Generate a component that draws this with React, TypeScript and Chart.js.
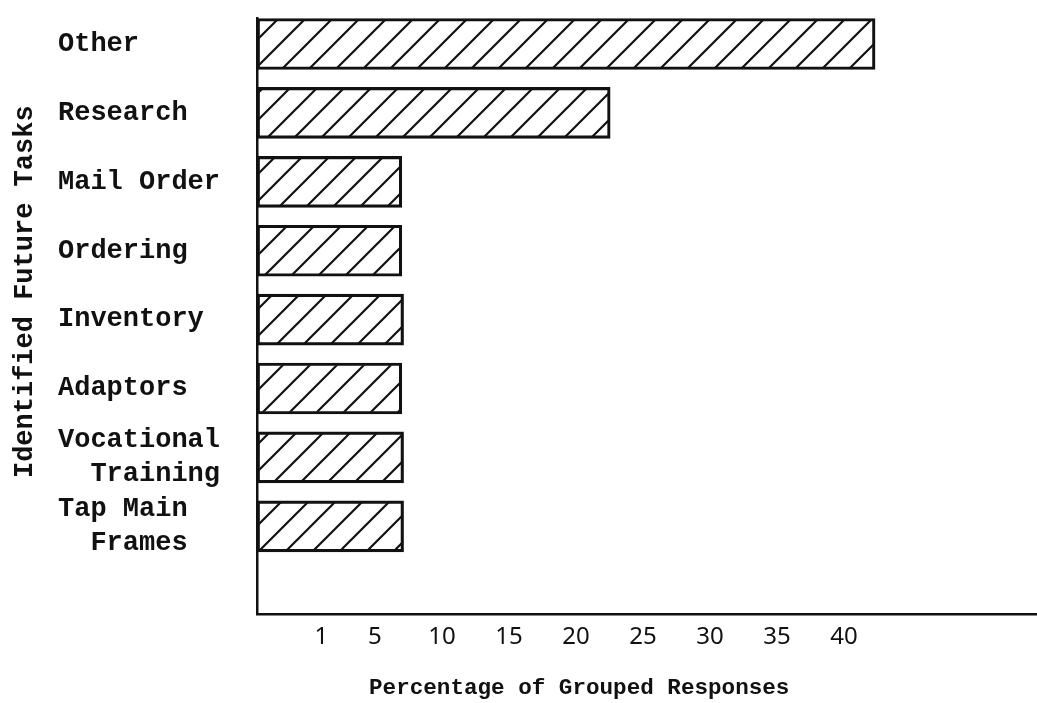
import React, { useEffect, useRef } from 'react';
import { Chart, registerables } from 'chart.js';

Chart.register(...registerables);

// ---- data ----
const categoryLines: string[][] = [
  ['Other'],
  ['Research'],
  ['Mail Order'],
  ['Ordering'],
  ['Inventory'],
  ['Adaptors'],
  ['Vocational', '  Training'],
  ['Tap Main', '  Frames'],
];
const percentages: number[] = [35, 20, 8.2, 8.2, 8.3, 8.2, 8.3, 8.3];
const tickLabels: number[] = [1, 5, 10, 15, 20, 25, 30, 35, 40];
const yTitle = 'Identified Future Tasks';
const xTitle = 'Percentage of Grouped Responses';

const MONO = "'Liberation Mono', 'DejaVu Sans Mono', monospace";

function padLines(lines: string[], n: number): string[] {
  return lines.map((l) => l + ' '.repeat(Math.max(0, n - l.length)));
}

function makeHatch(): CanvasPattern | string {
  const s = 27;
  const c = document.createElement('canvas');
  c.width = s;
  c.height = s;
  const g = c.getContext('2d');
  if (!g) return '#fff';
  g.strokeStyle = '#111';
  g.lineWidth = 2.2;
  g.beginPath();
  g.moveTo(0, s);
  g.lineTo(s, 0);
  g.moveTo(-s / 2, s / 2);
  g.lineTo(s / 2, -s / 2);
  g.moveTo(s / 2, s * 1.5);
  g.lineTo(s * 1.5, s / 2);
  g.stroke();
  return g.createPattern(c, 'repeat') || '#fff';
}

export default function App() {
  const ref = useRef<HTMLCanvasElement | null>(null);

  useEffect(() => {
    if (!ref.current) return;
    const maxLen = Math.max(...categoryLines.flat().map((l) => l.length));
    const labels = categoryLines.map((ls) => padLines(ls, maxLen));
    const hatch = makeHatch();

    const chart = new Chart(ref.current, {
      type: 'bar',
      data: {
        datasets: [
          {
            data: percentages.map((v, i) => ({ x: v, y: i })),
            backgroundColor: hatch as any,
            borderColor: '#111',
            borderWidth: 2.5,
            borderSkipped: false,
            barThickness: 51,
            xAxisID: 'x',
            yAxisID: 'y',
          },
        ],
      },
      options: {
        indexAxis: 'y',
        animation: false,
        responsive: true,
        maintainAspectRatio: false,
        layout: { padding: { top: 18, left: 0, right: 0, bottom: 0 } },
        plugins: { legend: { display: false }, tooltip: { enabled: false } },
        scales: {
          y: {
            type: 'linear',
            reverse: true,
            offset: false,
            min: -0.377,
            max: 8.273,
            afterBuildTicks: (s: any) => {
              s.ticks = categoryLines.map((_, i) => ({ value: i }));
            },
            afterFit: (s: any) => {
              s.width = 257;
              s.paddingTop = 0;
              s.paddingBottom = 0;
            },
            ticks: {
              autoSkip: false,
              padding: 37,
              crossAlign: 'near',
              color: '#111',
              font: { family: MONO, size: 27, weight: 'bold', lineHeight: 1.25 },
              callback: (v: any) => labels[Math.round(Number(v))] ?? '',
            },
            grid: { display: false, drawTicks: false, offset: false },
            border: { display: true, color: '#111', width: 2.5 },
            title: {
              display: true,
              text: '   ' + yTitle,
              color: '#111',
              font: { family: MONO, size: 27, weight: 'bold', lineHeight: 1.2 },
              padding: { top: 9, bottom: 0 },
            },
          },
          x: {
            type: 'linear',
            position: 'bottom',
            min: 0,
            max: 44.17,
            ticks: { display: false },
            grid: { display: false, drawTicks: false },
            border: { display: true, color: '#111', width: 2.5 },
            afterFit: (s: any) => {
              s.height = 0;
              s.paddingLeft = 0;
              s.paddingRight = 0;
            },
          },
          x2: {
            type: 'linear',
            position: 'bottom',
            min: -3.8,
            max: 54.41,
            afterBuildTicks: (s: any) => {
              s.ticks = tickLabels.map((v) => ({ value: v }));
            },
            afterFit: (s: any) => {
              s.paddingLeft = 0;
              s.paddingRight = 0;
            },
            ticks: {
              autoSkip: false,
              maxRotation: 0,
              padding: 10,
              color: '#111',
              font: { family: "'Noto Sans', sans-serif", size: 24, lineHeight: 1.1 },
              callback: (v: any) => String(v),
            },
            grid: { display: false, drawTicks: false },
            border: { display: false },
            title: {
              display: true,
              text: xTitle + ' '.repeat(10),
              color: '#111',
              font: { family: MONO, size: 22.6, weight: 'bold', lineHeight: 1.2 },
              padding: { top: 14, bottom: 1.4 },
            },
          },
        },
      } as any,
    });
    return () => chart.destroy();
  }, []);

  return (
    <div style={{ position: 'fixed', left: 0, top: 0, width: 1037, height: 703, background: '#fff' }}>
      <canvas ref={ref} />
    </div>
  );
}
